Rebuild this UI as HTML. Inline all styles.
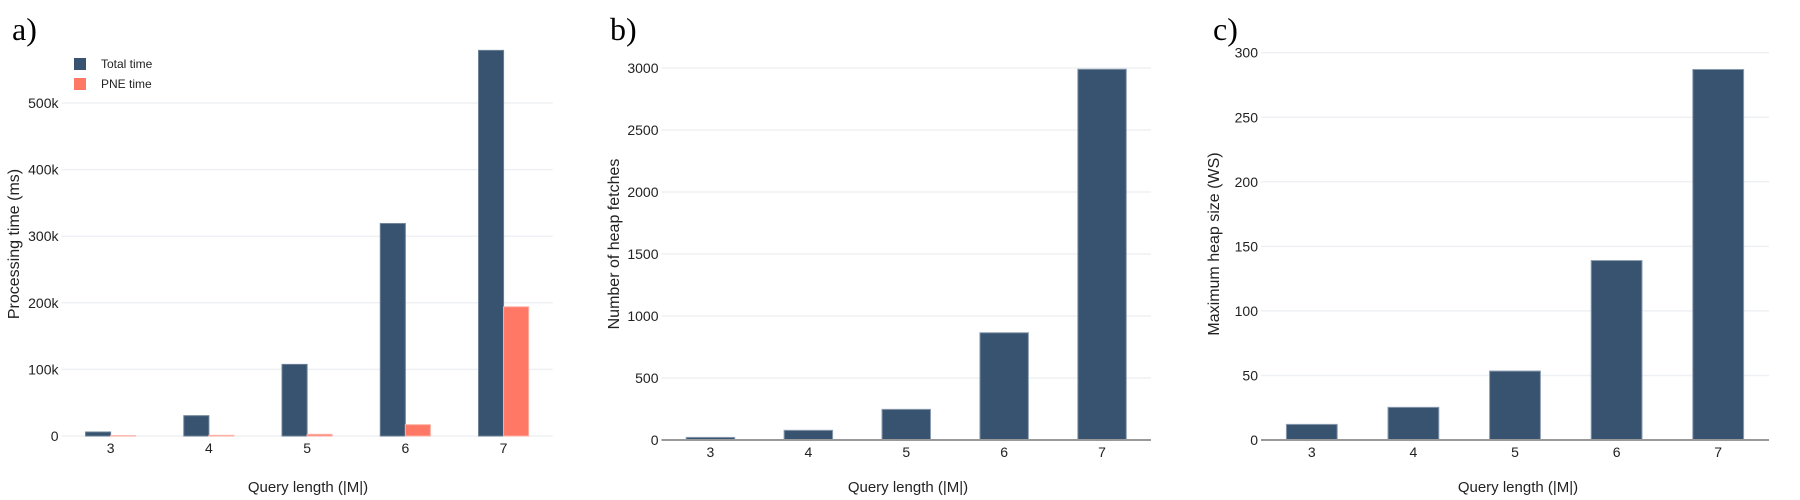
<!DOCTYPE html>
<html><head><meta charset="utf-8">
<style>
html,body{margin:0;padding:0;background:#fff;}
svg{display:block;font-family:"Liberation Sans","DejaVu Sans",sans-serif;}
</style></head>
<body>
<svg id="chart" width="1800" height="500" viewBox="0 0 1800 500" xmlns="http://www.w3.org/2000/svg"></svg>
<script>
const categories = ["3","4","5","6","7"];
const totalTime = [6000, 30500, 107500, 319000, 579000];
const pneTime = [500, 1000, 2500, 17000, 194000];
const heapFetches = [21, 78, 247, 865, 2990];
const heapSize = [12.1, 25.3, 53.4, 139, 287];
const ticksA = [0,100000,200000,300000,400000,500000];
const tickLabelsA = ["0","100k","200k","300k","400k","500k"];
const ticksB = [0,500,1000,1500,2000,2500,3000];
const ticksC = [0,50,100,150,200,250,300];

const svg = document.getElementById('chart');
const NS = "http://www.w3.org/2000/svg";
function mk(tag, attrs, parent){
  const e = document.createElementNS(NS, tag);
  for (const k in attrs) e.setAttribute(k, attrs[k]);
  (parent||svg).appendChild(e);
  return e;
}
function panel(cfg){
  const g = mk('g', {});
  
  
  const y = v => cfg.y0 - (v / cfg.ymaxVal) * (cfg.y0 - cfg.ymaxPx);
  const step = (cfg.x1 - cfg.x0) / categories.length;
  const cx = i => cfg.x0 + step * (i + 0.5);
  cfg.ticks.forEach((t, i) => {
    if (t !== 0 || !cfg.zeroDark) {
      const l = mk('line', {x1:cfg.x0, x2:cfg.x1, y1:y(t), y2:y(t), stroke:'#eef0f4', 'stroke-width':1.5}, g);
      
      
    }
    const tx = mk('text', {x:cfg.x0-3, y:y(t)+5, 'text-anchor':'end', 'font-size':14, fill:'#222'}, g);
    tx.textContent = cfg.tickLabels[i];
    
    
  });
  const bw = step * cfg.barFrac;
  cfg.series.forEach((s, si) => {
    const n = cfg.series.length;
    s.values.forEach((v, i) => {
      const left = cx(i) - (bw * n) / 2 + si * bw;
      const r = mk('rect', {x:left, y:y(v), width:bw, height:cfg.y0 - y(v), fill:s.color, stroke:s.stroke, 'stroke-width':1}, g);
      
      
    });
  });
  if (cfg.zeroDark) {
    const z = mk('line', {x1:cfg.x0, x2:cfg.x1, y1:cfg.y0, y2:cfg.y0, stroke:'#999', 'stroke-width':2}, g);
    
    
  }
  categories.forEach((c, i) => {
    const t = mk('text', {x:cx(i), y:cfg.y0+17, 'text-anchor':'middle', 'font-size':14, fill:'#222'}, g);
    t.textContent = c;
    
    
  });
  const xt = mk('text', {x:cfg.xTitleX, y:492, 'text-anchor':'middle', 'font-size':15, fill:'#222'}, g);
  xt.textContent = 'Query length (|M|)';
  
  
  const yt = mk('text', {x:0, y:0, 'text-anchor':'middle', 'font-size':16, fill:'#222', transform:'translate(' + cfg.yTitleX + ',244) rotate(-90)'}, g);
  yt.textContent = cfg.yTitle;
  
  
  const pt = mk('text', {x:cfg.labelX, y:40, 'font-size':32, fill:'#000', 'font-family':'"Liberation Serif",serif'}, g);
  pt.textContent = cfg.label;
  
  
}
panel({name:'panel-a-processing-time', x0:61.5, x1:552.7, y0:436, ymaxPx:103, ymaxVal:500000,
  ticks:ticksA, tickLabels:tickLabelsA, barFrac:0.255, zeroDark:false,
  series:[{key:'total', values:totalTime, color:'#375370', stroke:'#6a7f95'},{key:'pne', values:pneTime, color:'#ff7866', stroke:'#ffb0a5'}],
  xTitleX:308, yTitleX:19, yTitle:'Processing time (ms)', label:'a)', labelX:12});
panel({name:'panel-b-heap-fetches', x0:661.5, x1:1151, y0:440, ymaxPx:68, ymaxVal:3000,
  ticks:ticksB, tickLabels:ticksB.map(String), barFrac:0.495, zeroDark:true,
  series:[{key:'fetches', values:heapFetches, color:'#375370', stroke:'#8a9bb0'}],
  xTitleX:908, yTitleX:619, yTitle:'Number of heap fetches', label:'b)', labelX:610});
panel({name:'panel-c-heap-size', x0:1261, x1:1769, y0:440, ymaxPx:52.7, ymaxVal:300,
  ticks:ticksC, tickLabels:ticksC.map(String), barFrac:0.5, zeroDark:true,
  series:[{key:'heapsize', values:heapSize, color:'#375370', stroke:'#8a9bb0'}],
  xTitleX:1518, yTitleX:1219, yTitle:'Maximum heap size (WS)', label:'c)', labelX:1213});
const lg = mk('g', {});


[['Total time','#375370',58],['PNE time','#ff7866',78]].forEach(([t,c,yy]) => {
  const r = mk('rect', {x:74, y:yy, width:12, height:12, fill:c}, lg);
  
  
  const tx = mk('text', {x:101, y:yy+10, 'font-size':12, fill:'#222'}, lg);
  tx.textContent = t;
  
  
});
</script>
</body></html>
